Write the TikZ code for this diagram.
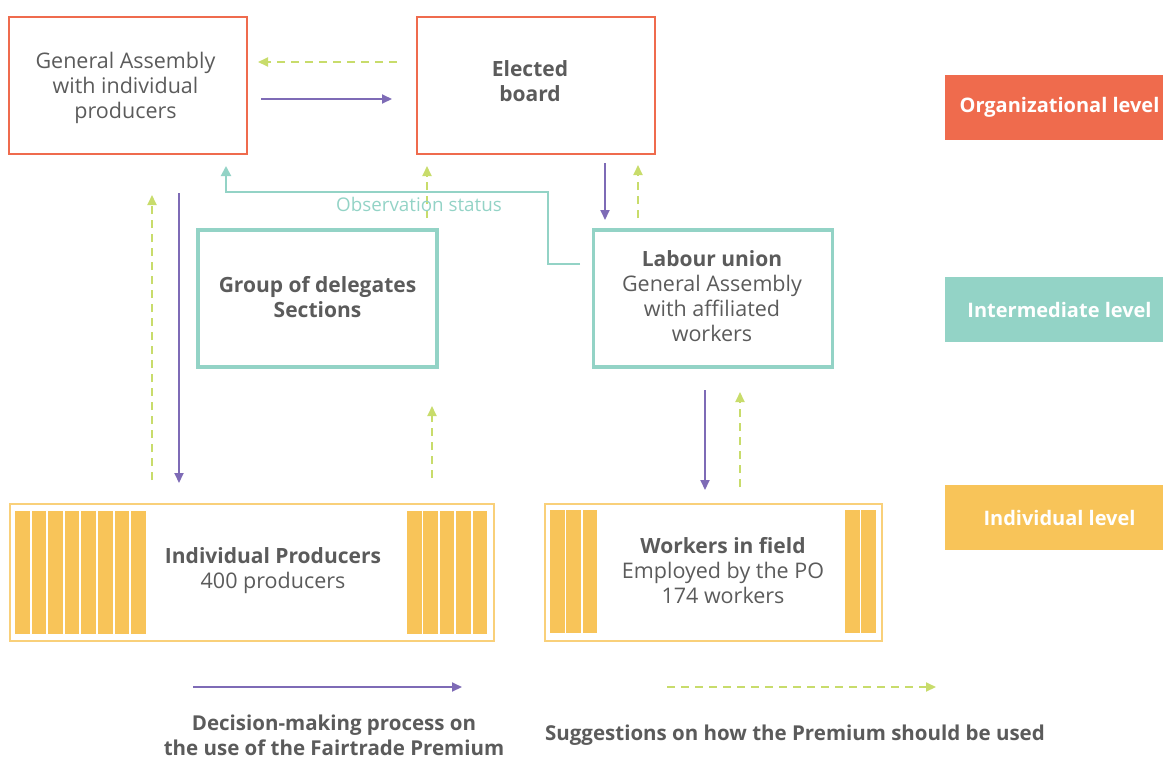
\documentclass[tikz,border=0pt]{standalone}
\usepackage{fontspec}
\setmainfont{Open Sans}
\usetikzlibrary{arrows.meta}
\definecolor{orgc}{HTML}{EF6B4D}
\definecolor{tealc}{HTML}{93D3C6}
\definecolor{yelc}{HTML}{F8C459}
\definecolor{purc}{HTML}{7E6BB6}
\definecolor{grnc}{HTML}{C8DC6B}
\definecolor{txtc}{HTML}{5B5B5B}
\newcommand{\rg}{\fontsize{21.5}{25}\selectfont}
\newcommand{\bd}{\bfseries\fontsize{21}{25}\selectfont}
\tikzset{
  box/.style={draw, line width=2pt, minimum width=#1, inner sep=0pt, align=center, text=txtc, font=\rg},
  orgbox/.style={box=238pt, draw=orgc, minimum height=137pt},
  midbox/.style={box=239pt, draw=tealc, line width=3.5pt, minimum height=137pt},
  indbox/.style={box=#1, draw=yelc!80, minimum height=137pt},
  lvl/.style={fill=#1, minimum width=218pt, minimum height=65pt, inner sep=0pt},
  lvltext/.style={text=white, inner sep=0pt, font=\bfseries\fontsize{20}{23}\selectfont},
  lbl/.style={align=center, text=txtc, font=\rg},
  dec/.style={draw=purc, line width=2pt, -{Triangle[length=10pt,width=9pt]}},
  sug/.style={draw=grnc, line width=2pt, dash pattern=on 8pt off 6pt, -{Triangle[length=10pt,width=9pt]}},
  obs/.style={draw=tealc, line width=2pt, -{Triangle[length=10pt,width=10pt]}},
  bar/.style={fill=yelc, draw=none}
}
\begin{document}
\begin{tikzpicture}[x=1pt,y=-1pt]
\useasboundingbox (0,0) rectangle (1163,758);
% boxes
\node[orgbox] (ga) at (128,85.5) {};
\node[lbl] (gat) at (125.5,87.5) {General Assembly\\with individual\\producers};
\node[orgbox] (eb) at (536,85.5) {};
\node[lbl, font=\bd] (ebt) at (530,81) {Elected\\board};
\node[midbox] (gd) at (317.5,298.5) {};
\node[lbl, font=\bd] (gdt) at (317.5,297) {Group of delegates\\Sections};
\node[midbox] (lu) at (713,298.5) {};
\node[lbl] (lut) at (712,296) {\bd Labour union\\General Assembly\\with affiliated\\workers};
\node[indbox=484pt] (ip) at (252,572.5) {};
\node[indbox=337pt] (wf) at (713.5,572) {};
\foreach \i in {0,...,7} \fill[bar] (15+\i*16.6,511) rectangle ++(14.6,123);
\foreach \i in {0,...,4} \fill[bar] (407+\i*16.4,511) rectangle ++(14.6,123);
\foreach \i in {0,...,2} \fill[bar] (550+\i*16.4,510) rectangle ++(14.6,123);
\foreach \i in {0,...,1} \fill[bar] (845+\i*16.4,510) rectangle ++(14.6,123);
\node[lbl] (ipt) at (273,571) {\bd Individual Producers\\400 producers};
\node[lbl] (wft) at (723,570.5) {\bd Workers in field\\Employed by the PO\\174 workers};
% levels
\node[lvl=orgc] (l1) at (1054,107.5) {};
\node[lvltext] (l1t) at (1059.5,107.5) {Organizational level};
\node[lvl=tealc] (l2) at (1054,309.5) {};
\node[lvltext] (l2t) at (1059.5,309.5) {Intermediate level};
\node[lvl=yelc] (l3) at (1054,517.5) {};
\node[lvltext] (l3t) at (1059.5,517.5) {Individual level};
% connector coordinates
\coordinate (a1) at (261,99); \coordinate (a2) at (392,99);
\coordinate (b1) at (397,62); \coordinate (b2) at (258,62);
\coordinate (c1) at (179,193); \coordinate (c2) at (179,483);
\coordinate (d1) at (152,480); \coordinate (d2) at (152,195);
\coordinate (e1) at (432,478); \coordinate (e2) at (432,406);
\coordinate (f1) at (427,218); \coordinate (f2) at (427,166);
\coordinate (g1) at (605,163); \coordinate (g2) at (605,220);
\coordinate (h1) at (638,218); \coordinate (h2) at (638,165);
\coordinate (i1) at (705,390); \coordinate (i2) at (705,490);
\coordinate (j1) at (740,487); \coordinate (j2) at (740,392);
\coordinate (o1) at (580,264); \coordinate (o2) at (548,264);
\coordinate (o3) at (548,192); \coordinate (o4) at (226,192); \coordinate (o5) at (226,166);
\coordinate (k1) at (193,687); \coordinate (k2) at (462,687);
\coordinate (m1) at (667,687); \coordinate (m2) at (936,687);
% connectors
\draw[dec] (a1) -- (a2);
\draw[sug] (b1) -- (b2);
\draw[dec] (c1) -- (c2);
\draw[sug] (d1) -- (d2);
\draw[sug] (e1) -- (e2);
\draw[sug] (f1) -- (f2);
\draw[dec] (g1) -- (g2);
\draw[sug] (h1) -- (h2);
\draw[dec] (i1) -- (i2);
\draw[sug] (j1) -- (j2);
\draw[obs] (o1) -- (o2) -- (o3) -- (o4) -- (o5);
\node[text=tealc, font=\fontsize{18.8}{22}\selectfont] (obst) at (419,204) {Observation status};
% legend
\draw[dec] (k1) -- (k2);
\draw[sug] (m1) -- (m2);
\node[lbl, inner sep=0pt, font=\bfseries\fontsize{20.5}{25}\selectfont] (lg1) at (334,735) {Decision-making process on\\the use of the Fairtrade Premium};
\node[lbl, inner sep=0pt, font=\bfseries\fontsize{20.5}{25}\selectfont] (lg2) at (795,735.5) {Suggestions on how the Premium should be used};
\end{tikzpicture}
\end{document}
